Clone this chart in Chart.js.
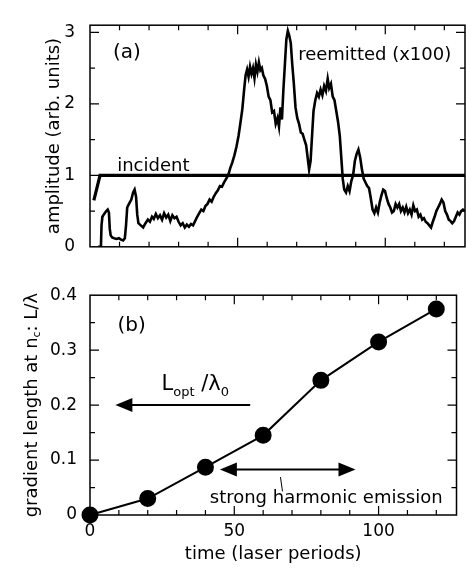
<!DOCTYPE html>
<html>
<head>
<meta charset="utf-8">
<script src="https://cdn.jsdelivr.net/npm/chart.js@4"></script>
<style>
body { margin: 0; background: #fff; }
canvas { position: absolute; left: 0; }
#chartA { top: 0; }
#chartB { top: 272px; }
</style>
</head>
<body>
<canvas id="chartA" width="466" height="272"></canvas>
<canvas id="chartB" width="466" height="304"></canvas>
<script>
// panel (a): amplitudes vs time
let incidentT = [1.3, 3.4, 127];
let incidentV = [0.65, 1.0, 1.0];

let reemT = [2.7, 3.7, 3.9, 4.2, 4.8, 5.5, 6.0, 6.4, 6.7, 7.0, 7.5, 8.2, 9.0, 9.8, 10.5, 11.2, 11.8, 12.2, 12.6, 13.2,
    14.0, 14.6, 15.1, 15.6, 16.0, 16.4, 17.2, 18.0, 18.8, 19.6, 20.3, 21.0, 21.6, 22.3, 23.0, 23.7, 24.4, 25.1, 25.8, 26.5,
    27.2, 27.9, 28.6, 29.3, 30.0, 30.7, 31.4, 32.1, 32.8, 33.5, 34.2, 34.9, 35.6, 36.3, 37.0, 37.7, 38.4, 39.1, 39.8, 40.5,
    41.2, 41.9, 42.6, 43.3, 44.0, 44.7, 45.4, 46.1, 46.8, 47.5, 48.2, 48.9, 49.6, 50.3, 51.0, 51.6, 52.2, 52.7, 53.2, 53.7,
    54.2, 54.7, 55.2, 55.7, 56.2, 56.7, 57.2, 57.7, 58.2, 58.7, 59.3, 59.9, 60.5, 61.1, 61.7, 62.3, 62.9, 63.5, 64.0, 64.5,
    65.0, 65.5, 66.0, 66.5, 67.0, 67.5, 68.0, 68.5, 69.0, 69.6, 70.2, 70.8, 71.4, 72.0, 72.6, 73.2, 73.7, 74.2, 74.7, 75.2,
    75.7, 76.3, 76.9, 77.5, 78.1, 78.7, 79.3, 79.9, 80.5, 81.0, 81.6, 82.2, 82.8, 83.4, 84.0, 84.6, 85.1, 85.6, 86.1, 86.7,
    87.3, 87.9, 88.5, 89.1, 89.7, 90.3, 90.9, 91.5, 92.1, 92.7, 93.3, 93.9, 94.5, 95.1, 95.7, 96.3, 96.9, 97.5, 98.1, 98.7,
    99.3, 99.9, 100.5, 101.1, 101.7, 102.3, 102.9, 103.5, 104.1, 104.7, 105.3, 105.9, 106.5, 107.1, 107.7, 108.3, 108.9, 109.5, 110.1, 110.7,
    111.3, 111.9, 112.5, 113.1, 113.7, 114.3, 114.9, 115.5, 116.1, 116.7, 117.3, 117.9, 118.5, 119.1, 119.7, 120.3, 120.9, 121.5, 122.1, 122.7,
    123.3, 123.9, 124.5, 125.1, 125.7, 126.3, 127.0];
let reemV = [0.0, 0.0, 0.3, 0.42, 0.46, 0.5, 0.52, 0.48, 0.25, 0.16, 0.13, 0.12, 0.11, 0.12, 0.1, 0.09, 0.12, 0.3, 0.55, 0.6,
    0.66, 0.76, 0.8, 0.7, 0.45, 0.33, 0.3, 0.27, 0.33, 0.38, 0.35, 0.42, 0.39, 0.46, 0.4, 0.44, 0.38, 0.47, 0.41, 0.45,
    0.36, 0.44, 0.4, 0.42, 0.35, 0.3, 0.33, 0.27, 0.31, 0.28, 0.32, 0.3, 0.36, 0.42, 0.47, 0.52, 0.5, 0.57, 0.6, 0.66,
    0.63, 0.7, 0.75, 0.79, 0.85, 0.84, 0.9, 0.95, 1.0, 1.1, 1.18, 1.28, 1.4, 1.55, 1.75, 1.93, 2.2, 2.4, 2.48, 2.38,
    2.52, 2.42, 2.5, 2.36, 2.55, 2.45, 2.58, 2.47, 2.5, 2.4, 2.35, 2.25, 2.1, 2.05, 1.88, 1.9, 1.72, 1.8, 1.68, 1.95,
    1.78, 2.2, 2.55, 2.9, 3.02, 2.95, 2.85, 2.55, 2.3, 1.95, 1.8, 1.72, 1.6, 1.58, 1.5, 1.42, 1.25, 1.08, 1.2, 1.55,
    1.9, 2.05, 2.15, 2.1, 2.2, 2.12, 2.25, 2.18, 2.35, 2.22, 2.28, 2.1, 2.05, 1.9, 1.75, 1.55, 1.25, 0.95, 0.8, 0.76,
    0.85, 0.78, 0.92, 1.0, 1.2, 1.3, 1.36, 1.25, 1.08, 0.95, 0.9, 0.85, 0.82, 0.68, 0.52, 0.47, 0.55, 0.48, 0.62, 0.72,
    0.8, 0.78, 0.68, 0.6, 0.55, 0.48, 0.5, 0.6, 0.55, 0.6, 0.5, 0.55, 0.48, 0.56, 0.47, 0.52, 0.45, 0.58, 0.5, 0.52,
    0.42, 0.45, 0.38, 0.4, 0.35, 0.33, 0.3, 0.27, 0.35, 0.42, 0.5, 0.55, 0.6, 0.66, 0.62, 0.5, 0.45, 0.38, 0.36, 0.33,
    0.36, 0.42, 0.48, 0.45, 0.5, 0.52, 0.5];

// panel (b): gradient length vs time
let gradT = [0, 20, 40, 60, 80, 100, 120];
let gradV = [0, 0.03, 0.087, 0.145, 0.245, 0.315, 0.375];

let timeMax = 127;
let ampMax = 3.1;
let gradMax = 0.4;

const FONT = '"DejaVu Sans", sans-serif';
Chart.defaults.font.family = FONT;
Chart.defaults.color = '#000';

function pts(xs, ys) {
    return xs.map((t, i) => ({ x: t, y: ys[i] }));
}

// box + inward ticks on all four sides
function framePlugin(yMajor, yMinor) {
    return {
        id: 'frame',
        afterDraw(chart) {
            const ctx = chart.ctx;
            const a = chart.chartArea;
            const x = chart.scales.x, y = chart.scales.y;
            ctx.save();
            ctx.strokeStyle = '#000';
            ctx.lineWidth = 1.5;
            ctx.strokeRect(a.left, a.top, a.right - a.left, a.bottom - a.top);
            ctx.lineWidth = 1.2;
            ctx.beginPath();
            const xt = (v, len) => {
                const px = x.getPixelForValue(v);
                ctx.moveTo(px, a.bottom); ctx.lineTo(px, a.bottom - len);
                ctx.moveTo(px, a.top); ctx.lineTo(px, a.top + len);
            };
            const yt = (v, len) => {
                const py = y.getPixelForValue(v);
                ctx.moveTo(a.left, py); ctx.lineTo(a.left + len, py);
                ctx.moveTo(a.right, py); ctx.lineTo(a.right - len, py);
            };
            [50, 100].forEach(v => xt(v, 9));
            [10, 20, 30, 40, 60, 70, 80, 90, 110, 120].forEach(v => xt(v, 5));
            yMajor.forEach(v => yt(v, 9));
            yMinor.forEach(v => yt(v, 5));
            ctx.stroke();
            ctx.restore();
        }
    };
}

// text pieces with subscripts: [[text, isSub], ...]
function drawRich(ctx, parts, x, y, size, align) {
    const main = size + 'px ' + FONT;
    const sub = Math.round(size * 0.62) + 'px ' + FONT;
    let w = 0;
    parts.forEach(p => { ctx.font = p[1] ? sub : main; w += ctx.measureText(p[0]).width; });
    let cx = align === 'center' ? x - w / 2 : x;
    ctx.textAlign = 'left';
    parts.forEach(p => {
        ctx.font = p[1] ? sub : main;
        ctx.fillText(p[0], cx, p[1] ? y + size * 0.3 : y);
        cx += ctx.measureText(p[0]).width;
    });
}

function arrowHead(ctx, tipX, tipY, dir) {
    ctx.beginPath();
    ctx.moveTo(tipX, tipY);
    ctx.lineTo(tipX + dir * 17, tipY - 7);
    ctx.lineTo(tipX + dir * 17, tipY + 7);
    ctx.closePath();
    ctx.fill();
}

const notesA = {
    id: 'notesA',
    afterDraw(chart) {
        const ctx = chart.ctx, a = chart.chartArea;
        const x = chart.scales.x, y = chart.scales.y;
        ctx.save();
        ctx.fillStyle = '#000';
        ctx.textBaseline = 'middle';
        ctx.textAlign = 'left';
        ctx.font = '20px ' + FONT;
        ctx.fillText('(a)', x.getPixelForValue(7.8), y.getPixelForValue(2.71));
        ctx.font = '18px ' + FONT;
        ctx.fillText('reemitted (x100)', x.getPixelForValue(70.5), y.getPixelForValue(2.68));
        ctx.fillText('incident', x.getPixelForValue(9.2), y.getPixelForValue(1.12));
        ctx.translate(54, (a.top + a.bottom) / 2);
        ctx.rotate(-Math.PI / 2);
        ctx.textAlign = 'center';
        ctx.fillText('amplitude (arb. units)', 0, 0);
        ctx.restore();
    }
};

const notesB = {
    id: 'notesB',
    afterDraw(chart) {
        const ctx = chart.ctx, a = chart.chartArea;
        const x = chart.scales.x, y = chart.scales.y;
        ctx.save();
        ctx.fillStyle = '#000';
        ctx.strokeStyle = '#000';
        ctx.textBaseline = 'middle';
        ctx.textAlign = 'left';
        ctx.font = '20px ' + FONT;
        ctx.fillText('(b)', x.getPixelForValue(9.5), y.getPixelForValue(0.344));

        ctx.textBaseline = 'alphabetic';
        drawRich(ctx, [['L', false], ['opt', true], [' /\u03bb', false], ['0', true]],
            x.getPixelForValue(24.8), y.getPixelForValue(0.228), 21, 'left');

        // optimum gradient arrow
        ctx.lineWidth = 2;
        let yy = y.getPixelForValue(0.2);
        let x0 = x.getPixelForValue(8.8), x1 = x.getPixelForValue(55.5);
        ctx.beginPath(); ctx.moveTo(x0 + 10, yy); ctx.lineTo(x1, yy); ctx.stroke();
        arrowHead(ctx, x0, yy, 1);

        // strong emission range
        yy = y.getPixelForValue(0.083);
        x0 = x.getPixelForValue(45); x1 = x.getPixelForValue(92);
        ctx.beginPath(); ctx.moveTo(x0 + 10, yy); ctx.lineTo(x1 - 10, yy); ctx.stroke();
        arrowHead(ctx, x0, yy, 1);
        arrowHead(ctx, x1, yy, -1);
        ctx.lineWidth = 1;
        ctx.beginPath();
        ctx.moveTo(x.getPixelForValue(66), y.getPixelForValue(0.069));
        ctx.lineTo(x.getPixelForValue(66.7), y.getPixelForValue(0.043));
        ctx.stroke();

        ctx.textBaseline = 'middle';
        ctx.font = '18px ' + FONT;
        ctx.fillText('strong harmonic emission', x.getPixelForValue(41.5), y.getPixelForValue(0.031));

        ctx.textAlign = 'center';
        ctx.fillText('time (laser periods)', (a.left + a.right) / 2, 282);

        ctx.translate(32, (a.top + a.bottom) / 2);
        ctx.rotate(-Math.PI / 2);
        ctx.textBaseline = 'middle';
        drawRich(ctx, [['gradient length at n', false], ['c', true], [': L/\u03bb', false]], 0, 0, 18, 'center');
        ctx.restore();
    }
};

function yAxis(max, step, padding) {
    return {
        type: 'linear', min: 0, max: max,
        grid: { display: false, drawTicks: false },
        border: { display: false },
        ticks: { stepSize: step, includeBounds: false, padding: padding, font: { size: 17 } },
        afterFit: s => { s.width = 90; }
    };
}

let chartA = new Chart(document.getElementById('chartA').getContext('2d'), {
    type: 'line',
    data: {
        datasets: [{
            label: 'incident',
            data: pts(incidentT, incidentV),
            borderColor: '#000',
            borderWidth: 3.2,
            pointRadius: 0,
        }, {
            label: 'reemitted (x100)',
            data: pts(reemT, reemV),
            borderColor: '#000',
            borderWidth: 2.6,
            pointRadius: 0,
        }]
    },
    options: {
        responsive: false,
        animation: false,
        devicePixelRatio: 1,
        layout: { padding: { top: 7, right: 1, left: 0, bottom: 0 } },
        plugins: { legend: { display: false }, tooltip: { enabled: false } },
        scales: {
            x: {
                type: 'linear', min: 0, max: timeMax,
                grid: { display: false, drawTicks: false },
                border: { display: false },
                ticks: { display: false },
                afterFit: s => { s.height = 6; }
            },
            y: yAxis(ampMax, 1, 15)
        }
    },
    plugins: [framePlugin([1, 2, 3], [0.5, 1.5, 2.5]), notesA]
});

let chartB = new Chart(document.getElementById('chartB').getContext('2d'), {
    type: 'line',
    data: {
        datasets: [{
            label: 'gradient length',
            data: pts(gradT, gradV),
            borderColor: '#000',
            borderWidth: 2,
            backgroundColor: '#000',
            pointRadius: 7.5,
            pointBackgroundColor: '#000',
            clip: false,
        }]
    },
    options: {
        responsive: false,
        animation: false,
        devicePixelRatio: 1,
        layout: { padding: { top: 12, right: 1, left: 0, bottom: 0 } },
        plugins: { legend: { display: false }, tooltip: { enabled: false } },
        scales: {
            x: {
                type: 'linear', min: 0, max: timeMax,
                grid: { display: false, drawTicks: false },
                border: { display: false },
                ticks: { stepSize: 50, includeBounds: false, padding: 6, maxRotation: 0, font: { size: 17 } },
                afterFit: s => { s.height = 61; }
            },
            y: yAxis(gradMax, 0.1, 13)
        }
    },
    plugins: [framePlugin([0.1, 0.2, 0.3], [0.05, 0.15, 0.25, 0.35]), notesB]
});
</script>
</body>
</html>
